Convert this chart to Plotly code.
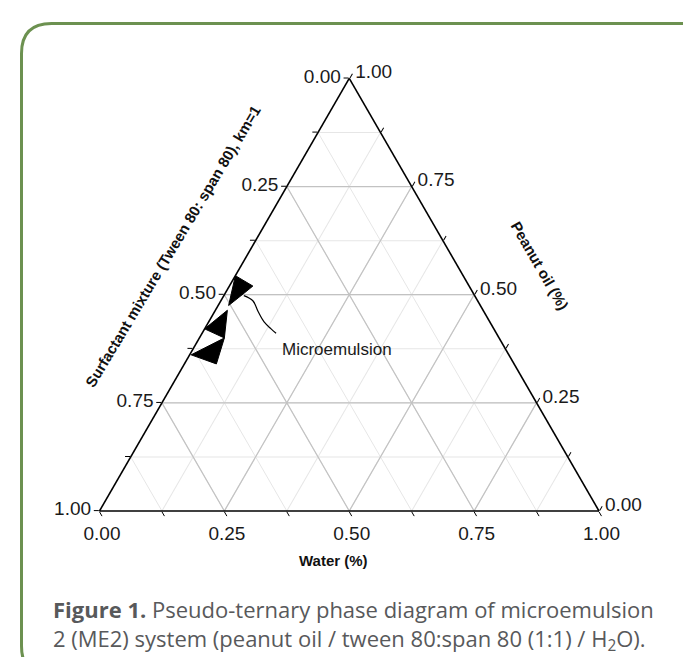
'''
    Pseudo-ternary phase diagram of microemulsion ME2
    (peanut oil / tween 80:span 80 / water).
'''
import plotly.graph_objects as go

W, H = 691, 657

# Microemulsion region (fractions).
# a = peanut oil, b = surfactant mixture, c = water
ME1_OIL = [0.544, 0.520, 0.504, 0.475]
ME1_SURF = [0.456, 0.433, 0.458, 0.504]
ME1_WATER = [0.000, 0.047, 0.038, 0.021]

ME2_OIL = [0.464, 0.400, 0.421]
ME2_SURF = [0.512, 0.550, 0.579]
ME2_WATER = [0.024, 0.050, 0.000]

ME3_OIL = [0.400, 0.340, 0.361]
ME3_SURF = [0.550, 0.596, 0.636]
ME3_WATER = [0.050, 0.064, 0.003]

# leader line from the region to its label
LEADER_OIL = [0.498, 0.486, 0.461, 0.437, 0.421, 0.411]
LEADER_WATER = [0.040, 0.064, 0.087, 0.111, 0.133, 0.148]
LEADER_SURF = [0.462, 0.450, 0.452, 0.452, 0.446, 0.441]

# ticks every 0.125, labels every 0.25 (read the other way round)
TICK_VALS = [0, 0.125, 0.25, 0.375, 0.5, 0.625, 0.75, 0.875, 1]
TICK_TEXT = ['1.00', ' ', '0.75', ' ', '0.50', ' ', '0.25', ' ', '0.00']
MAJOR_GRID = [0.25, 0.5, 0.75]

TICK_FONT = dict(family='Liberation Sans, Arial', size=19, color='#1a1a1a')
TITLE_FONT = dict(family='Liberation Sans, Arial', size=15, color='#111111')


def px_x(x):
    return x / W


def px_y(y):
    return 1 - y / H


fig = go.Figure()

# darker grid lines at the labelled ticks
for v in MAJOR_GRID:
    for a, b, c in [([v, v], [1 - v, 0], [0, 1 - v]),
                    ([1 - v, 0], [v, v], [0, 1 - v]),
                    ([1 - v, 0], [0, 1 - v], [v, v])]:
        fig.add_trace(go.Scatterternary(
            a=a, b=b, c=c, mode='lines',
            line=dict(color='#c2c2c2', width=1.2),
            hoverinfo='skip', showlegend=False
        ))

# microemulsion patches
for oil, surf, water in [(ME1_OIL, ME1_SURF, ME1_WATER),
                         (ME2_OIL, ME2_SURF, ME2_WATER),
                         (ME3_OIL, ME3_SURF, ME3_WATER)]:
    fig.add_trace(go.Scatterternary(
        a=oil + oil[:1], b=surf + surf[:1], c=water + water[:1],
        mode='lines', fill='toself', fillcolor='black',
        line=dict(color='black', width=1),
        hoverinfo='skip', showlegend=False
    ))

fig.add_trace(go.Scatterternary(
    a=LEADER_OIL, b=LEADER_SURF, c=LEADER_WATER, mode='lines',
    line=dict(color='black', width=1.2, shape='spline'),
    hoverinfo='skip', showlegend=False
))

axis_style = dict(
    tickmode='array', tickvals=TICK_VALS, ticktext=TICK_TEXT,
    tickfont=TICK_FONT, ticks='outside', ticklen=5,
    tickcolor='black', tickwidth=1.2,
    linecolor='black', linewidth=1.6,
    showgrid=True, gridcolor='#e6e6e6', gridwidth=1,
    title=dict(text='')
)

fig.update_layout(
    width=W, height=H,
    margin=dict(l=0, r=0, t=0, b=0),
    paper_bgcolor='white',
    showlegend=False,
    ternary=dict(
        domain=dict(x=[px_x(91.5), px_x(591)], y=[px_y(503), px_y(70.4)]),
        bgcolor='white',
        sum=1,
        aaxis=axis_style,
        baxis=axis_style,
        caxis=axis_style,
    ),
)

# axis titles written along the edges
fig.add_annotation(
    text='<b>Surfactant mixture (Tween 80: span 80), km=1</b>',
    x=px_x(165), y=px_y(239), xref='paper', yref='paper',
    xanchor='center', yanchor='middle',
    textangle=-59, showarrow=False, font=TITLE_FONT
)
fig.add_annotation(
    text='<b>Peanut oil (%)</b>',
    x=px_x(532), y=px_y(257), xref='paper', yref='paper',
    xanchor='center', yanchor='middle',
    textangle=60, showarrow=False, font=TITLE_FONT
)
fig.add_annotation(
    text='<b>Water (%)</b>',
    x=px_x(325), y=px_y(552), xref='paper', yref='paper',
    xanchor='center', yanchor='middle',
    showarrow=False, font=TITLE_FONT
)
fig.add_annotation(
    text='Microemulsion',
    x=px_x(272), y=px_y(341), xref='paper', yref='paper',
    xanchor='left', yanchor='middle', showarrow=False,
    font=dict(family='Liberation Sans, Arial', size=17, color='#1a1a1a')
)

# caption, two lines in one block
fig.add_annotation(
    text=('<b>Figure 1.</b> Pseudo-ternary phase diagram of microemulsion<br>'
          '2 (ME2) system (peanut oil / tween 80:span 80 (1:1) / H<sub>2</sub>O).'),
    x=px_x(43), y=px_y(617), xref='paper', yref='paper',
    xanchor='left', yanchor='middle', align='left', showarrow=False,
    font=dict(family='Open Sans', size=22, color='#58595b')
)

# rounded green frame around the figure
left, top, right, bottom, r = 13.5, 15.5, 702, 668, 30
path = (
    f'M {px_x(left + r)},{px_y(top)} L {px_x(right - r)},{px_y(top)} '
    f'Q {px_x(right)},{px_y(top)} {px_x(right)},{px_y(top + r)} '
    f'L {px_x(right)},{px_y(bottom - r)} '
    f'Q {px_x(right)},{px_y(bottom)} {px_x(right - r)},{px_y(bottom)} '
    f'L {px_x(left + r)},{px_y(bottom)} '
    f'Q {px_x(left)},{px_y(bottom)} {px_x(left)},{px_y(bottom - r)} '
    f'L {px_x(left)},{px_y(top + r)} '
    f'Q {px_x(left)},{px_y(top)} {px_x(left + r)},{px_y(top)} Z'
)
fig.add_shape(
    type='path', path=path, xref='paper', yref='paper',
    line=dict(color='#6c9150', width=3), fillcolor='rgba(0,0,0,0)'
)

fig.write_html('out.html')
